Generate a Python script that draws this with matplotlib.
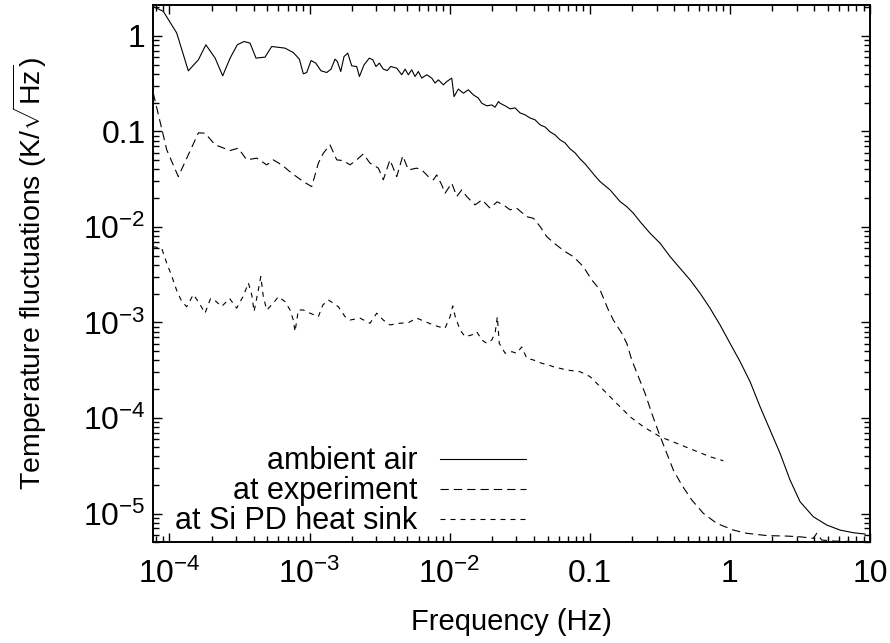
import matplotlib
matplotlib.use("Agg")
import matplotlib.pyplot as plt
from matplotlib.ticker import FixedLocator, FixedFormatter, LogLocator, NullFormatter

plt.rcParams['font.family'] = ['Liberation Sans', 'DejaVu Sans']
plt.rcParams['mathtext.fontset'] = 'custom'
plt.rcParams['mathtext.rm'] = 'Liberation Sans'
plt.rcParams['mathtext.it'] = 'Liberation Sans:italic'
plt.rcParams['mathtext.default'] = 'regular'
plt.rcParams['lines.scale_dashes'] = False

# ---------------- data ----------------
air_f = [7.8e-5, 9.05e-5, 1.127e-4, 1.364e-4, 1.61e-4, 1.82e-4, 2.12e-4, 2.40e-4, 2.71e-4,
         3.05e-4, 3.41e-4, 3.76e-4, 4.15e-4, 4.81e-4, 5.37e-4, 6.68e-4, 7.66e-4, 8.46e-4,
         9.03e-4, 9.55e-4, 1.025e-3, 1.107e-3, 1.208e-3, 1.327e-3, 1.424e-3, 1.52e-3,
         1.579e-3, 1.67e-3, 1.763e-3, 1.874e-3, 2.0e-3, 2.17e-3, 2.27e-3, 2.45e-3, 2.67e-3,
         2.83e-3, 2.98e-3, 3.15e-3, 3.36e-3, 3.59e-3, 3.80e-3, 4.19e-3, 4.55e-3, 4.81e-3,
         5.07e-3, 5.36e-3, 5.66e-3, 5.98e-3, 6.32e-3, 6.87e-3, 7.45e-3, 7.87e-3, 8.31e-3,
         9.02e-3, 9.54e-3, 1.035e-2, 1.075e-2, 1.153e-2, 1.253e-2, 1.36e-2, 1.476e-2,
         1.603e-2, 1.695e-2, 1.84e-2, 2.0e-2, 2.11e-2, 2.23e-2, 2.29e-2, 2.49e-2, 2.70e-2,
         2.93e-2, 3.18e-2, 3.45e-2, 3.75e-2, 4.07e-2, 4.42e-2, 4.80e-2, 5.21e-2, 5.65e-2,
         6.14e-2, 6.66e-2, 7.23e-2, 7.85e-2, 8.53e-2, 9.26e-2, 0.1005, 0.109, 0.1185,
         0.1396, 0.1646, 0.1837, 0.2048, 0.2286, 0.2694, 0.3176, 0.3744, 0.441, 0.520,
         0.613, 0.722, 0.851, 1.003, 1.183, 1.394, 1.643, 1.936, 2.282, 2.69, 3.17, 3.94,
         4.92, 6.12, 7.61, 9.23]
air_v = [2.0, 1.80, 1.07, 0.430, 0.561, 0.805, 0.584, 0.381, 0.584,
         0.805, 0.872, 0.839, 0.584, 0.598, 0.773, 0.743, 0.668, 0.570,
         0.400, 0.413, 0.551, 0.518, 0.430, 0.413, 0.448, 0.570,
         0.538, 0.423, 0.607, 0.659, 0.485, 0.477, 0.375, 0.497, 0.584,
         0.561, 0.477, 0.518, 0.448, 0.433, 0.477, 0.459, 0.391, 0.448,
         0.391, 0.441, 0.375, 0.423, 0.361, 0.391, 0.361, 0.320, 0.346,
         0.307, 0.332, 0.361, 0.231, 0.277, 0.251, 0.272, 0.241,
         0.223, 0.197, 0.185, 0.189, 0.179, 0.205, 0.197, 0.185, 0.172,
         0.176, 0.156, 0.149, 0.138, 0.132, 0.117, 0.111, 0.0988, 0.0919,
         0.0815, 0.0758, 0.0656, 0.0596, 0.0515, 0.0457, 0.0395, 0.0342, 0.0298,
         0.0244, 0.0184, 0.0163, 0.0139, 0.01136, 8.59e-3, 6.75e-3, 4.89e-3, 3.69e-3, 2.79e-3,
         2.02e-3, 1.41e-3, 9.42e-4, 6.05e-4, 3.89e-4, 2.40e-4, 1.313e-4, 7.49e-5, 4.27e-5,
         2.24e-5, 1.33e-5, 9.26e-6, 7.58e-6, 6.71e-6, 6.3e-6, 6.1e-6]

exp_f = [7.67e-5, 9.57e-5, 1.157e-4, 1.61e-4, 1.795e-4, 2.12e-4, 2.71e-4, 3.10e-4, 3.56e-4,
         4.20e-4, 4.95e-4, 5.51e-4, 6.33e-4, 7.46e-4, 9.03e-4, 1.037e-3, 1.156e-3, 1.255e-3,
         1.40e-3, 1.564e-3, 1.743e-3, 1.945e-3, 2.17e-3, 2.42e-3, 2.70e-3, 3.10e-3, 3.36e-3,
         3.75e-3, 4.19e-3, 4.63e-3, 5.07e-3, 5.82e-3, 6.32e-3, 7.05e-3, 7.65e-3, 8.09e-3,
         8.78e-3, 9.27e-3, 1.035e-2, 1.124e-2, 1.22e-2, 1.324e-2, 1.518e-2, 1.703e-2,
         1.943e-2, 2.18e-2, 2.42e-2, 2.70e-2, 3.01e-2, 3.55e-2, 3.96e-2, 4.42e-2, 4.93e-2,
         5.65e-2, 6.66e-2, 7.64e-2, 9.0e-2, 0.1033, 0.1185, 0.1358, 0.1474, 0.1692, 0.1837,
         0.1994, 0.2223, 0.2482, 0.2770, 0.3088, 0.3545, 0.3952, 0.4537, 0.535, 0.647,
         0.806, 1.06, 1.32, 1.834, 2.55, 3.17, 3.94, 4.17, 4.53, 5.48, 7.21, 9.38]
exp_v = [0.251, 0.064, 0.0336, 0.0964, 0.0958, 0.0722, 0.0630, 0.0667, 0.0503,
         0.0524, 0.0446, 0.0503, 0.0446, 0.0365, 0.0298, 0.0264, 0.0465, 0.0591,
         0.0722, 0.0503, 0.0494, 0.0446, 0.0503, 0.0581, 0.0465, 0.0412, 0.0311,
         0.0503, 0.0336, 0.0554, 0.0395, 0.0412, 0.0395, 0.0336, 0.0311, 0.0350,
         0.0275, 0.0225, 0.0287, 0.0208, 0.0244, 0.0208, 0.0170, 0.0192,
         0.0157, 0.0183, 0.0170, 0.0151, 0.0157, 0.0128, 0.0123, 0.0101, 7.91e-3,
         6.64e-3, 5.51e-3, 4.89e-3, 3.84e-3, 2.79e-3, 2.19e-3, 1.35e-3, 1.06e-3, 7.71e-4, 6.05e-4,
         4.05e-4, 2.71e-4, 1.81e-4, 1.12e-4, 7.19e-5, 4.27e-5, 2.85e-5, 1.99e-5, 1.385e-5, 1.005e-5,
         7.89e-6, 6.71e-6, 6.21e-6, 5.88e-6, 5.81e-6, 5.71e-6, 5.50e-6, 6.21e-6, 5.28e-6, 5.15e-6,
         5.1e-6, 5.1e-6]

sink_f = [7.6e-5, 8.81e-5, 9.57e-5, 1.038e-4, 1.127e-4, 1.224e-4, 1.329e-4, 1.481e-4, 1.635e-4,
          1.795e-4, 1.966e-4, 2.13e-4, 2.36e-4, 2.69e-4, 3.02e-4, 3.37e-4, 3.66e-4, 3.87e-4,
          4.02e-4, 4.31e-4, 4.49e-4, 4.68e-4, 4.95e-4, 5.51e-4, 5.99e-4, 6.69e-4, 7.26e-4,
          7.66e-4, 7.88e-4, 8.32e-4, 9.03e-4, 1.008e-3, 1.156e-3, 1.243e-3, 1.362e-3, 1.479e-3,
          1.606e-3, 1.792e-3, 1.945e-3, 2.29e-3, 2.70e-3, 3.02e-3, 3.36e-3, 3.75e-3, 4.43e-3,
          5.07e-3, 5.82e-3, 6.68e-3, 7.65e-3, 8.31e-3, 9.27e-3, 1.007e-2, 1.052e-2, 1.093e-2,
          1.186e-2, 1.288e-2, 1.438e-2, 1.561e-2, 1.695e-2, 1.84e-2, 2.0e-2, 2.11e-2, 2.19e-2,
          2.26e-2, 2.49e-2, 2.78e-2, 3.01e-2, 3.27e-2, 3.55e-2, 3.96e-2, 4.54e-2, 5.06e-2,
          5.50e-2, 6.85e-2, 8.53e-2, 0.1005, 0.1185, 0.1396, 0.1646, 0.194, 0.2413, 0.3176,
          0.418, 0.549, 0.722, 0.899]
sink_v = [6.22e-3, 5.98e-3, 4.17e-3, 3.07e-3, 2.16e-3, 1.66e-3, 1.46e-3, 1.96e-3, 1.59e-3,
          1.25e-3, 1.78e-3, 1.68e-3, 1.47e-3, 1.78e-3, 1.41e-3, 1.89e-3, 2.59e-3, 1.94e-3,
          1.30e-3, 2.19e-3, 3.02e-3, 1.86e-3, 1.35e-3, 1.59e-3, 1.86e-3, 1.65e-3, 1.35e-3,
          1.06e-3, 8.01e-4, 1.35e-3, 1.35e-3, 1.25e-3, 1.15e-3, 1.52e-3, 1.72e-3, 1.59e-3,
          1.46e-3, 1.15e-3, 1.06e-3, 1.11e-3, 9.81e-4, 1.25e-3, 1.06e-3, 9.42e-4, 9.81e-4,
          9.95e-4, 1.11e-3, 1.02e-3, 9.42e-4, 9.04e-4, 8.69e-4, 1.15e-3, 1.49e-3, 1.17e-3,
          8.34e-4, 7.10e-4, 7.40e-4, 8.01e-4, 6.56e-4, 6.05e-4, 6.56e-4, 7.71e-4, 1.15e-3,
          6.05e-4, 4.76e-4, 4.94e-4, 4.76e-4, 5.54e-4, 4.22e-4, 4.05e-4, 3.74e-4, 3.59e-4,
          3.44e-4, 3.18e-4, 3.05e-4, 2.71e-4, 2.13e-4, 1.67e-4, 1.31e-4, 1.03e-4, 8.11e-5, 6.37e-5,
          5.43e-5, 4.62e-5, 3.93e-5, 3.57e-5]

labels = ["ambient air", "at experiment", "at Si PD heat sink"]
xticks = [1e-4, 1e-3, 1e-2, 0.1, 1, 10]
xticklabels = [r"$10^{-4}$", r"$10^{-3}$", r"$10^{-2}$", "0.1", "1", "10"]
yticks = [1e-5, 1e-4, 1e-3, 1e-2, 0.1, 1]
yticklabels = [r"$10^{-5}$", r"$10^{-4}$", r"$10^{-3}$", r"$10^{-2}$", "0.1", "1"]

# ---------------- figure ----------------
fig = plt.figure(figsize=(8.9, 6.43), dpi=100)
ax = fig.add_axes([0.1716, 0.1566, 0.8059, 0.8356])

lw = 0.8
ax.plot(air_f, air_v, color='black', lw=lw, ls='-', label=labels[0])
ax.plot(exp_f, exp_v, color='black', lw=lw, ls=(0, (6, 3.6)), label=labels[1])
ax.plot(sink_f, sink_v, color='black', lw=lw, ls=(0, (3.6, 3.6)), label=labels[2])

ax.set_xscale('log')
ax.set_yscale('log')
ax.set_xlim(7.6e-5, 10)
ax.set_ylim(5e-6, 2.1)

for axis, ticks, labs in ((ax.xaxis, xticks, xticklabels), (ax.yaxis, yticks, yticklabels)):
    axis.set_major_locator(FixedLocator(ticks))
    axis.set_major_formatter(FixedFormatter(labs))
    axis.set_minor_locator(LogLocator(base=10, subs=range(2, 10), numticks=100))
    axis.set_minor_formatter(NullFormatter())

ax.tick_params(which='both', direction='in', top=True, right=True, width=1.0, labelsize=23)
ax.tick_params(which='major', length=6.5)
ax.tick_params(which='minor', length=4.5)
ax.tick_params(axis='x', which='major', pad=12)
ax.tick_params(axis='y', which='major', pad=5)
for s in ax.spines.values():
    s.set_linewidth(1.4)

ax.set_xlabel("Frequency (Hz)", fontsize=21)
ax.set_ylabel(r"Temperature fluctuations (K/$\sqrt{\mathrm{Hz}}$)", fontsize=20.5)
ax.xaxis.set_label_coords(0.5, -0.122)
ax.yaxis.set_label_coords(-0.145, 0.5)

leg = ax.legend(loc='lower right', bbox_to_anchor=(0.5204, 0.011), frameon=False,
                markerfirst=False, fontsize=22, handlelength=2.8, handletextpad=0.75,
                labelspacing=0.0, borderpad=0, borderaxespad=0)

fig.savefig("out.png", dpi=100)
